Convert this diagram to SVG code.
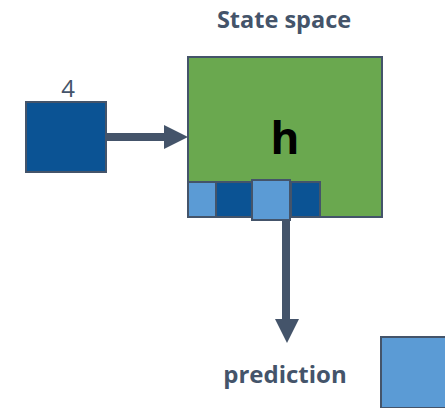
<svg xmlns="http://www.w3.org/2000/svg" width="445" height="408" viewBox="0 0 445 408">
<style>
.lbl{font-family:"Open Sans","Liberation Sans",sans-serif;fill:#44546A}
.b{font-weight:bold}
.box{stroke:#44546A;stroke-width:2}
.dark{fill:#0B5394}
.light{fill:#5B9BD5}
.conn{stroke:#44546A;stroke-width:8;fill:none}
.head{fill:#44546A}
</style>
<rect width="445" height="408" fill="#FFFFFF"/>
<text class="lbl b" x="284" y="28" font-size="23.5" text-anchor="middle">State space</text>
<g id="state">
<rect class="box" x="188" y="57" width="194" height="160" fill="#6AA84F"/>
<text x="285" y="154" font-family="Open Sans, Liberation Sans, sans-serif" font-weight="bold" font-size="44" fill="#000000" text-anchor="middle">h</text>
</g>
<g id="cells">
<rect class="box light" x="188" y="182" width="28" height="35"/>
<rect class="box dark" x="216" y="182" width="36" height="35"/>
<rect class="box dark" x="291" y="182" width="29" height="35"/>
<rect class="box light" x="252" y="180" width="38" height="40"/>
</g>
<g id="input">
<rect class="box dark" x="26" y="102" width="80" height="70"/>
<text class="lbl" x="68" y="97" font-size="24" text-anchor="middle">4</text>
</g>
<g id="output">
<rect class="box light" x="381" y="337" width="70" height="71"/>
</g>
<text class="lbl b" x="285" y="383" font-size="24" text-anchor="middle">prediction</text>
<g id="connectors">
<line class="conn" x1="106" y1="137" x2="166" y2="137"/>
<polygon class="head" points="164,125 188,137 164,149"/>
<line class="conn" x1="286" y1="220" x2="286" y2="321"/>
<polygon class="head" points="275,319 299,319 287,343"/>
</g>
</svg>
